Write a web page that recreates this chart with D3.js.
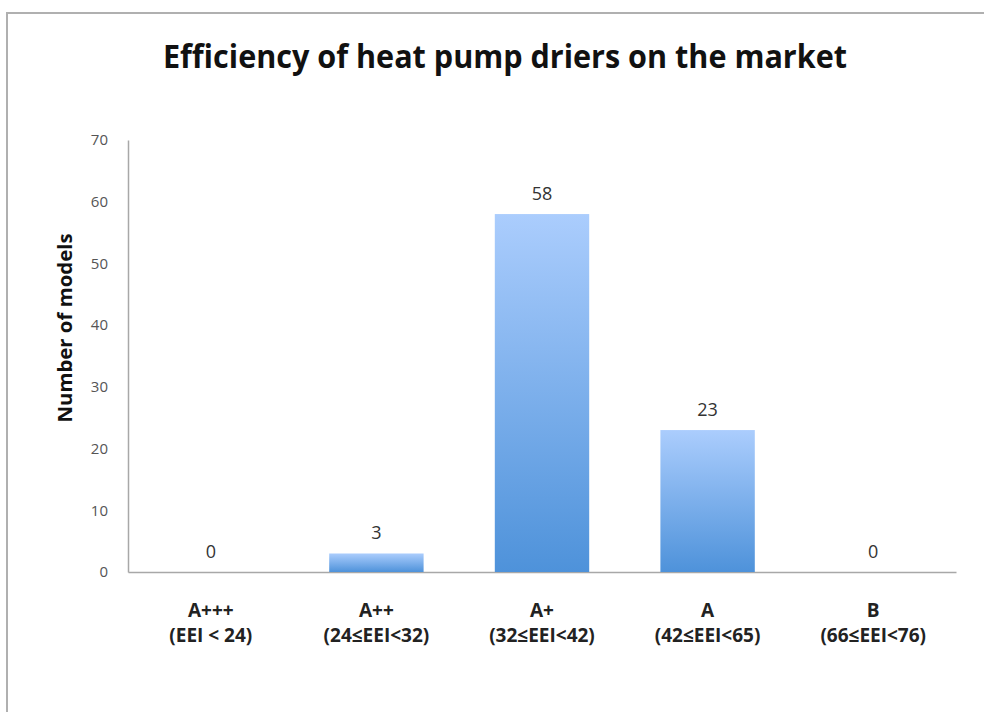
<!DOCTYPE html>
<html><head><meta charset="utf-8">
<script src="https://cdn.jsdelivr.net/npm/d3@7"></script>
<style>html,body{margin:0;padding:0;background:#fff;}</style>
</head><body>
<svg id="chart" width="984" height="712"></svg>
<script>
const categories = ["A+++", "A++", "A+", "A", "B"];
const ranges = ["(EEI < 24)", "(24≤EEI<32)", "(32≤EEI<42)", "(42≤EEI<65)", "(66≤EEI<76)"];
const values = [0, 3, 58, 23, 0];
const yTicks = [0, 10, 20, 30, 40, 50, 60, 70];
const titleText = "Efficiency of heat pump driers on the market";
const yTitle = "Number of models";

(function () {
const svg = d3.select("#chart");
const font = "'Open Sans', 'Noto Sans', sans-serif";

// frame
svg.append("rect").attr("x", 7).attr("y", 13).attr("width", 1000).attr("height", 730)
  .attr("fill", "#fff").attr("stroke", "#b0b0b0").attr("stroke-width", 2);

const mLeft = 128, mRight = 956, mTop = 140, mBottom = 572;
const x = d3.scaleBand().domain(categories).range([mLeft, mRight]).paddingInner(0.43).paddingOuter(0.215);
const y = d3.scaleLinear().domain([0, 70]).range([mBottom, mTop]);

const defs = svg.append("defs");
const grad = defs.append("linearGradient").attr("id", "barGrad").attr("x1", 0).attr("y1", 0).attr("x2", 0).attr("y2", 1);
grad.append("stop").attr("offset", "0%").attr("stop-color", "#abcdfd");
grad.append("stop").attr("offset", "100%").attr("stop-color", "#4e92da");

svg.append("text").attr("x", 505).attr("y", 68).attr("text-anchor", "middle")
  .attr("font-family", font).attr("font-weight", "bold").attr("font-size", 32).attr("fill", "#111")
  .attr("textLength", 684).attr("lengthAdjust", "spacingAndGlyphs")
  .text(titleText);

// y axis
const yAxis = d3.axisLeft(y).tickValues(yTicks).tickSize(0).tickPadding(20);
const gy = svg.append("g").attr("transform", `translate(${mLeft},0)`).call(yAxis);
gy.select(".domain").attr("stroke", "#a8a8a8").attr("stroke-width", 1.5);
gy.selectAll("text").attr("font-family", font).attr("font-size", 15).attr("fill", "#555");

// x axis line
const xAxis = d3.axisBottom(x).tickSize(0).tickFormat("");
const gx = svg.append("g").attr("transform", `translate(0,${mBottom})`).call(xAxis);
gx.select(".domain").attr("stroke", "#a8a8a8").attr("stroke-width", 1.5);

// bars
svg.append("g").selectAll("rect").data(values).join("rect")
  .attr("x", (d, i) => x(categories[i]))
  .attr("y", d => y(d))
  .attr("width", x.bandwidth())
  .attr("height", d => y(0) - y(d))
  .attr("fill", "url(#barGrad)");

// value labels
svg.append("g").selectAll("text").data(values).join("text")
  .attr("x", (d, i) => x(categories[i]) + x.bandwidth() / 2)
  .attr("y", d => y(d) - 14)
  .attr("text-anchor", "middle")
  .attr("font-family", font).attr("font-size", 18).attr("fill", "#333")
  .text(d => d);

// category labels
const cl = svg.append("g").selectAll("text").data(categories).join("text")
  .attr("text-anchor", "middle")
  .attr("font-family", font).attr("font-weight", "bold").attr("font-size", 19).attr("fill", "#222");
cl.append("tspan").attr("x", d => x(d) + x.bandwidth() / 2).attr("y", 617).text(d => d);
cl.append("tspan").attr("x", d => x(d) + x.bandwidth() / 2).attr("y", 642).text((d, i) => ranges[i]);

svg.append("text").attr("transform", "translate(72,328) rotate(-90)").attr("text-anchor", "middle")
  .attr("font-family", font).attr("font-weight", "bold").attr("font-size", 19).attr("fill", "#111")
  .attr("textLength", 189).attr("lengthAdjust", "spacingAndGlyphs")
  .text(yTitle);
})();
</script>
</body></html>
